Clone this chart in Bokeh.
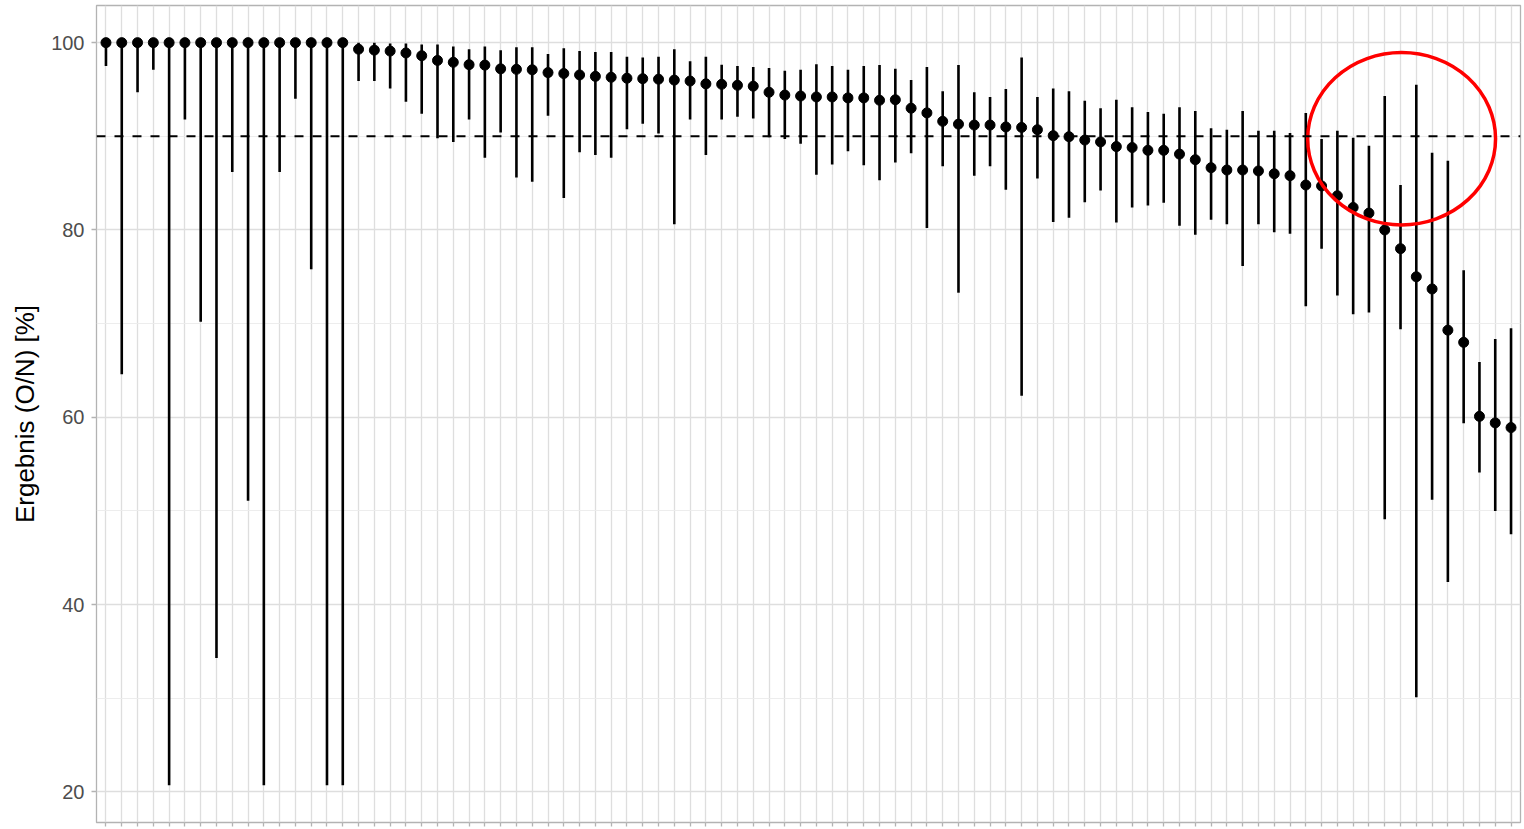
from bokeh.plotting import figure
from bokeh.models import Range1d, FixedTicker, ColumnDataSource, Span
from bokeh.embed import file_html
from bokeh.resources import INLINE

# ---- data ----
estimate = [100, 100, 100, 100, 100, 100, 100, 100, 100, 100,
            100, 100, 100, 100, 100, 100, 99.3, 99.2, 99.1, 98.9,
            98.6, 98.1, 97.9, 97.65, 97.6, 97.2, 97.15, 97.1, 96.8, 96.7,
            96.55, 96.4, 96.3, 96.2, 96.15, 96.1, 96.0, 95.9, 95.6, 95.55,
            95.45, 95.35, 94.7, 94.4, 94.3, 94.2, 94.2, 94.1, 94.1, 93.85,
            93.9, 93.0, 92.5, 91.6, 91.3, 91.2, 91.2, 91.0, 90.95, 90.7,
            90.07, 89.96, 89.6, 89.4, 88.9, 88.8, 88.5, 88.5, 88.1, 87.5,
            86.65, 86.4, 86.4, 86.3, 86.0, 85.8, 84.8, 84.7, 83.65, 82.4,
            81.8, 80.0, 78.0, 75.0, 73.7, 69.3, 68.0, 60.1, 59.4, 58.9]
lower = [97.5, 64.6, 94.7, 97.1, 20.7, 91.8, 70.2, 34.3, 86.2, 51.1,
         20.7, 86.2, 94.0, 75.8, 20.7, 20.7, 95.9, 95.9, 95.1, 93.7,
         92.4, 89.8, 89.4, 91.8, 87.7, 90.4, 85.6, 85.15, 92.2, 83.4,
         88.3, 88.0, 87.7, 90.75, 91.35, 90.3, 80.6, 91.8, 88.0, 91.8,
         92.1, 91.9, 89.9, 89.7, 89.2, 85.9, 87.0, 88.4, 86.9, 85.3,
         87.2, 88.2, 80.2, 86.8, 73.3, 85.8, 86.8, 84.3, 62.3, 85.5,
         80.85, 81.3, 82.95, 84.2, 80.8, 82.4, 82.6, 82.9, 80.45, 79.5,
         81.1, 80.6, 76.15, 80.6, 79.75, 79.6, 71.85, 78.0, 73.0, 71.0,
         71.2, 49.1, 69.4, 30.1, 51.2, 42.4, 59.35, 54.1, 50.0, 47.5]
upper = [100, 100, 100, 100, 100, 100, 100, 100, 100, 100,
         100, 100, 100, 100, 100, 100, 100, 100, 99.9, 99.9,
         99.8, 99.8, 99.6, 99.3, 99.6, 99.2, 99.5, 99.5, 98.8, 99.4,
         99.1, 99.0, 99.0, 98.5, 98.4, 98.5, 99.3, 98.0, 98.5, 97.65,
         97.5, 97.4, 97.3, 97.0, 97.1, 97.7, 97.5, 97.1, 97.5, 97.6,
         97.2, 96.0, 97.4, 94.8, 97.6, 94.7, 94.2, 95.05, 98.4, 94.2,
         95.1, 94.8, 93.8, 93.0, 93.9, 93.1, 92.6, 92.4, 93.1, 92.7,
         90.85, 90.7, 92.7, 90.6, 90.6, 90.35, 92.5, 89.7, 90.6, 89.85,
         89.0, 94.3, 84.8, 95.5, 88.25, 87.4, 75.7, 65.9, 68.35, 69.5]
target = 90
y_ticks = [20, 40, 60, 80, 100]
y_minor = [30, 50, 70, 90]
y_title = "Ergebnis (O/N) [%]"

# highlighted region (annotation, in data units)
hl_x, hl_y, hl_w, hl_h = 82.07, 89.74, 11.9, 18.4

x = list(range(len(estimate)))
src = ColumnDataSource(dict(x=x, est=estimate, lo=lower, hi=upper))

ymin = min(lower)
ymax = max(upper)
pad = (ymax - ymin) * 0.05

p = figure(width=1524, height=829, output_backend="svg", toolbar_location=None,
           x_range=Range1d(-0.6, len(x) - 1 + 0.6),
           y_range=Range1d(ymin - pad, ymax + pad),
           min_border_left=96, min_border_right=4, min_border_top=5,
           min_border_bottom=7)
p.background_fill_color = "white"
p.border_fill_color = "white"
p.outline_line_color = "#B3B3B3"
p.outline_line_width = 1.3

xt = FixedTicker(ticks=x)
yt = FixedTicker(ticks=y_ticks, minor_ticks=y_minor)
p.xaxis.ticker = xt
p.xgrid.ticker = xt
p.yaxis.ticker = yt
p.ygrid.ticker = yt

p.xgrid.grid_line_color = "#DEDEDE"
p.xgrid.grid_line_width = 1.3
p.ygrid.grid_line_color = "#DEDEDE"
p.ygrid.grid_line_width = 1.3
p.ygrid.minor_grid_line_color = "#EBEBEB"
p.ygrid.minor_grid_line_width = 0.9

for ax in (p.xaxis[0], p.yaxis[0]):
    ax.axis_line_color = None
    ax.major_tick_line_color = "#B3B3B3"
    ax.major_tick_line_width = 1.3
    ax.major_tick_in = 0
    ax.minor_tick_line_color = None

p.xaxis.major_tick_out = 4
p.xaxis.major_label_text_font_size = "0px"
p.xaxis.major_label_text_color = None
p.xaxis.major_label_standoff = 0

p.yaxis.major_tick_out = 5
p.yaxis.major_label_standoff = 7
p.yaxis.major_label_text_font = "Liberation Sans"
p.yaxis.major_label_text_font_size = "20px"
p.yaxis.major_label_text_color = "#4D4D4D"
p.yaxis.axis_label = y_title
p.yaxis.axis_label_text_font = "Liberation Sans"
p.yaxis.axis_label_text_font_size = "26px"
p.yaxis.axis_label_text_font_style = "normal"
p.yaxis.axis_label_text_color = "black"
p.yaxis.axis_label_standoff = 8

p.segment(x0="x", y0="lo", x1="x", y1="hi", source=src,
          line_color="black", line_width=2.6)
p.scatter(x="x", y="est", source=src, size=10, color="black")

p.add_layout(Span(location=target, dimension="width", line_color="black",
                  line_width=2, line_dash="9 9"))

p.ellipse(x=[hl_x], y=[hl_y], width=hl_w, height=hl_h,
          fill_color=None, line_color="#FF0000", line_width=3.5)

open("out.html", "w").write(file_html(p, INLINE))
